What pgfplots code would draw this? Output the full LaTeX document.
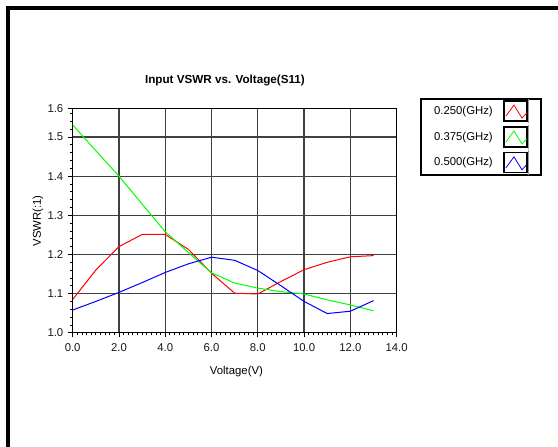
\documentclass[border=0pt]{standalone}
\usepackage{fontspec}
\setmainfont{Liberation Sans}
\usepackage{pgfplots}
\pgfplotsset{compat=1.18}
\newcommand{\lbl}{\fontsize{8.5}{10}\selectfont}
\begin{document}
\begin{tikzpicture}
\useasboundingbox (0,0) rectangle (418.5pt,335.25pt);
\fill[white] (0,0) rectangle (418.5pt,335.25pt);
\draw[black,line width=3pt] (6pt,0pt) -- (6pt,328.9pt) -- (418.5pt,328.9pt);
\begin{axis}[
    at={(54.5pt,85.7pt)}, anchor=south west,
    scale only axis, width=243pt, height=168.3pt,
    xmin=0, xmax=14, ymin=1, ymax=1.5733,
    xtick={0,2,...,14},
    xticklabels={0.0,2.0,4.0,6.0,8.0,10.0,12.0,14.0},
    minor x tick num=9,
    ytick={1,1.1,1.2,1.3,1.4,1.5,1.5733},
    yticklabels={1.0,1.1,1.2,1.3,1.4,1.5,1.6},
    minor ytick={1.02,1.04,1.06,1.08,1.12,1.14,1.16,1.18,1.22,1.24,1.26,1.28,1.32,1.34,1.36,1.38,1.42,1.44,1.46,1.48,1.52,1.54,1.56},
    tick align=outside,
    major tick length=3.5pt, minor tick length=2pt,
    tick style={black, line width=0.6pt},
    xtick pos=bottom, ytick pos=left,
    grid=major,
    major grid style={black!75, line width=0.9pt},
    axis line style={black, line width=0.9pt},
    /pgf/number format/assume math mode=true,
    ticklabel style={font=\lbl, text=black!90},
    xticklabel style={yshift=-1pt},
    title={\textbf{Input VSWR vs. Voltage(S11)}},
    title style={font=\fontsize{8.75}{10}\selectfont, at={(0.470,1.077)}, anchor=base},
    xlabel={Voltage(V)},
    xlabel style={font=\lbl, at={(0.5055,-0.186)}, anchor=base},
    ylabel={VSWR(:1)},
    ylabel style={font=\lbl, at={(-0.107,0.498)}, anchor=center},
    legend plot pos=right,
    legend cell align=left,
    legend style={at={(1.072,1.0446)}, anchor=north west,
        draw=black, line width=1.2pt, fill=white, font=\lbl,
        inner xsep=10pt, inner ysep=1pt, row sep=3.5pt, column sep=8pt,
        nodes={inner sep=0pt}},
    legend image code/.code={
        \begin{pgfinterruptboundingbox}
        \draw[black!40, line width=0.6pt] (18.6pt,-9.25pt) -- (18.6pt,9.25pt);
        \end{pgfinterruptboundingbox}
        \draw[black, line width=0.9pt, fill=white] (0pt,-7.5pt) rectangle (17.25pt,7.5pt);
        \draw[line width=0.6pt, #1] (1.5pt,-3.75pt) -- (7.5pt,4.5pt) -- (13.5pt,-5.25pt) -- (17pt,-1.5pt);
    },
]
\addplot[red, line width=0.75pt] coordinates {
    (0,1.085) (1,1.160) (2,1.220) (3,1.251) (4,1.251) (5,1.213) (6,1.152)
    (7,1.101) (8,1.099) (9,1.131) (10,1.161) (11,1.180) (12,1.194) (13,1.197)
};
\addlegendentry{0.250(GHz)}
\addplot[green, line width=0.75pt] coordinates {
    (0,1.531) (1,1.465) (2,1.400) (3,1.329) (4,1.258) (5,1.205) (6,1.153)
    (7,1.127) (8,1.114) (9,1.105) (10,1.099) (11,1.084) (12,1.071) (13,1.056)
};
\addlegendentry{0.375(GHz)}
\addplot[blue, line width=0.75pt] coordinates {
    (0,1.058) (1,1.080) (2,1.103) (3,1.128) (4,1.154) (5,1.176) (6,1.193)
    (7,1.185) (8,1.159) (9,1.120) (10,1.080) (11,1.049) (12,1.055) (13,1.082)
};
\addlegendentry{0.500(GHz)}
\end{axis}
\end{tikzpicture}
\end{document}
